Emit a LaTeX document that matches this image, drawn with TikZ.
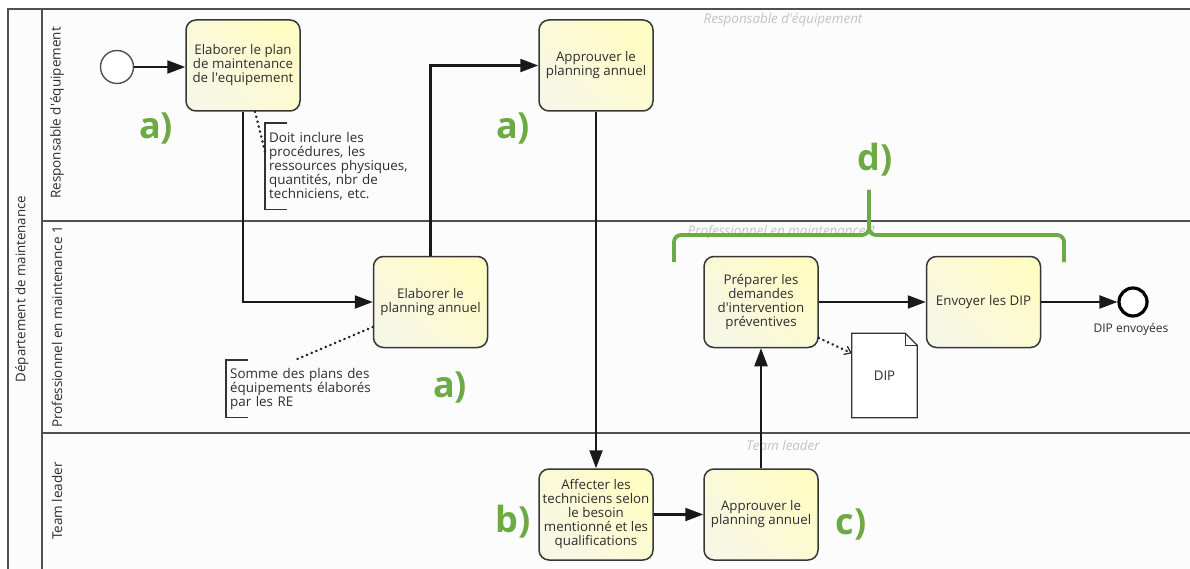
\documentclass[tikz,border=0pt]{standalone}
\usepackage{fontspec}
\setmainfont{Open Sans}
\usetikzlibrary{arrows.meta,calc}

\definecolor{poolgray}{RGB}{80,80,80}
\definecolor{poolfill}{RGB}{252,252,252}
\definecolor{taskborder}{RGB}{55,55,55}
\definecolor{taskA}{RGB}{247,247,230}
\definecolor{taskB}{RGB}{255,252,196}
\definecolor{textgray}{RGB}{45,45,45}
\definecolor{ghostgray}{RGB}{195,195,195}
\definecolor{markgreen}{RGB}{108,170,68}
\newcommand\apos{\textquotesingle}

\begin{document}
\begin{tikzpicture}[x=1pt,y=-1pt,
  lanerule/.style={draw=poolgray,line width=1.5pt},
  task/.style={draw=taskborder,line width=1.5pt,rounded corners=10pt,
    minimum width=114pt,minimum height=91pt,inner sep=1pt,align=center,
    font=\fontsize{13.3}{14}\selectfont,text=textgray,
    left color=taskA,right color=taskB,shading angle=135},
  flow/.style={draw=black!90,line width=2.2pt,-{Triangle[length=18pt,width=13pt]}},
  assoc/.style={draw=black!85,line width=2.8pt,line cap=round,dash pattern=on 0.1pt off 5pt},
  note/.style={anchor=north west,align=left,inner xsep=4pt,inner ysep=7pt,
    font=\fontsize{13.4}{14}\selectfont,text=textgray},
  bracket/.style={draw=black!80,line width=1.4pt},
  greenlabel/.style={font=\fontsize{36}{36}\selectfont\bfseries,text=markgreen,inner sep=0pt},
  lanetitle/.style={rotate=90,font=\fontsize{13.5}{14}\selectfont,text=textgray},
  ghost/.style={font=\fontsize{13.4}{14}\selectfont\itshape,text=ghostgray},
  brace/.style={draw=markgreen,line width=3.8pt,rounded corners=7pt,line cap=butt},
  event/.style={circle,draw=poolgray,fill=white,line width=1.4pt}]

\useasboundingbox (0,0) rectangle (1190,569);

% pool and lanes
\fill[poolfill] (8,9) rectangle (1190,569);
\draw[lanerule] (1190,9) -- (8,9) -- (8,569);
\draw[lanerule] (42,9) -- (42,569);
\draw[lanerule] (42,221) -- (1190,221);
\draw[lanerule] (42,433) -- (1190,433);

\node[lanetitle,font=\fontsize{13.3}{14}\selectfont] (pool) at (22,289) {Département de maintenance};
\node[lanetitle] (lane1) at (57,113) {Responsable d\apos équipement};
\node[lanetitle] (lane2) at (57,327) {Professionnel en maintenance 1};
\node[lanetitle] (lane3) at (57,501) {Team leader};

\node[ghost] (g1) at (783,20) {Responsable d\apos équipement};
\node[ghost] (g2) at (782,232) {Professionnel en maintenance 1};
\node[ghost] (g3) at (783,445) {Team leader};

% events and tasks
\node[event,minimum size=33pt] (start) at (117,67) {};
\node[task] (T1) at (243,65.5) {Elaborer le plan\\de maintenance\\de l\apos equipement};
\node[task] (T2) at (596,65.5) {Approuver le\\planning annuel};
\node[task] (T3) at (430.5,302) {Elaborer le\\planning annuel};
\node[task] (T5) at (761,302) {Préparer les\\demandes\\d\apos intervention\\préventives};
\node[task] (T6) at (983.5,302) {Envoyer les DIP};
\node[task] (T4) at (596,514.5) {Affecter les\\techniciens selon\\le besoin\\mentionné et les\\qualifications};
\node[task] (T7) at (761,514.5) {Approuver le\\planning annuel};
\node[event,draw=black,line width=3.2pt,minimum size=28pt] (end) at (1133,302) {};
\node[font=\fontsize{12}{13}\selectfont,text=textgray,anchor=north] (endlbl) at (1131,320) {DIP envoyées};

% data object
\node[minimum width=65pt,minimum height=84pt,inner sep=0pt] (DIP) at (884.5,375.5) {};
\filldraw[fill=white,draw=black!80,line width=1.2pt]
  (DIP.north west) -- ([xshift=-12pt]DIP.north east) -- ([yshift=-12pt]DIP.north east)
  -- (DIP.south east) -- (DIP.south west) -- cycle;
\draw[draw=black!80,line width=1.2pt] ([xshift=-12pt]DIP.north east) |- ([yshift=-12pt]DIP.north east);
\node[font=\fontsize{13.3}{14}\selectfont,text=textgray] (DIPtext) at (DIP.center) {DIP};

% annotations
\node[note,minimum height=86pt,text width=160pt] (ann1) at (265,123)
  {Doit inclure les\\procédures, les\\ressources physiques,\\quantités, nbr de\\techniciens, etc.};
\draw[bracket] ([xshift=22pt]ann1.north west) -- (ann1.north west) -- (ann1.south west) -- ([xshift=22pt]ann1.south west);
\node[note,minimum height=57pt,inner ysep=5pt,text width=160pt] (ann2) at (226,360)
  {Somme des plans des\\équipements élaborés\\par les RE};
\draw[bracket] ([xshift=22pt]ann2.north west) -- (ann2.north west) -- (ann2.south west) -- ([xshift=22pt]ann2.south west);

% sequence flows
\draw[flow] (start) -- (T1.west |- start);
\draw[flow] (T1.south) |- (T3.west);
\draw[flow] (T3.north) |- (T2.west);
\draw[flow] (T2.south) -- (T4.north);
\draw[flow] (T4.east) -- (T7.west);
\draw[flow] (T7.north) -- (T5.south);
\draw[flow] (T5.east) -- (T6.west);
\draw[flow] (T6.east) -- (end.west);

% associations
\draw[assoc] ([xshift=12pt]T1.south) -- ($(ann1.north west)!0.33!(ann1.south west)$);
\draw[assoc] ([yshift=-25pt]T3.west) -- ([xshift=69pt]ann2.north west);
\draw[assoc,-{Straight Barb[length=6pt,width=9pt,line width=1.2pt]}] ([yshift=-36pt]T5.east) -- ([yshift=-20pt]DIP.west |- DIP.north);

% green markers
\coordinate (dL) at (674,262);
\coordinate (dR) at (1064,262);
\coordinate (dMid) at (869,235);
\coordinate (dTop) at (869,190);
\draw[brace] (dL) |- (dMid) -- (dTop);
\draw[brace] (dTop) -- (dMid) -| (dR);

\node[greenlabel] (m1) at (156,128) {a)};
\node[greenlabel] (m2) at (513,129) {a)};
\node[greenlabel] (m3) at (450,387) {a)};
\node[greenlabel] (m4) at (513,522) {b)};
\node[greenlabel] (m5) at (851,524) {c)};
\node[greenlabel] (m6) at (875,160) {d)};
\end{tikzpicture}
\end{document}
